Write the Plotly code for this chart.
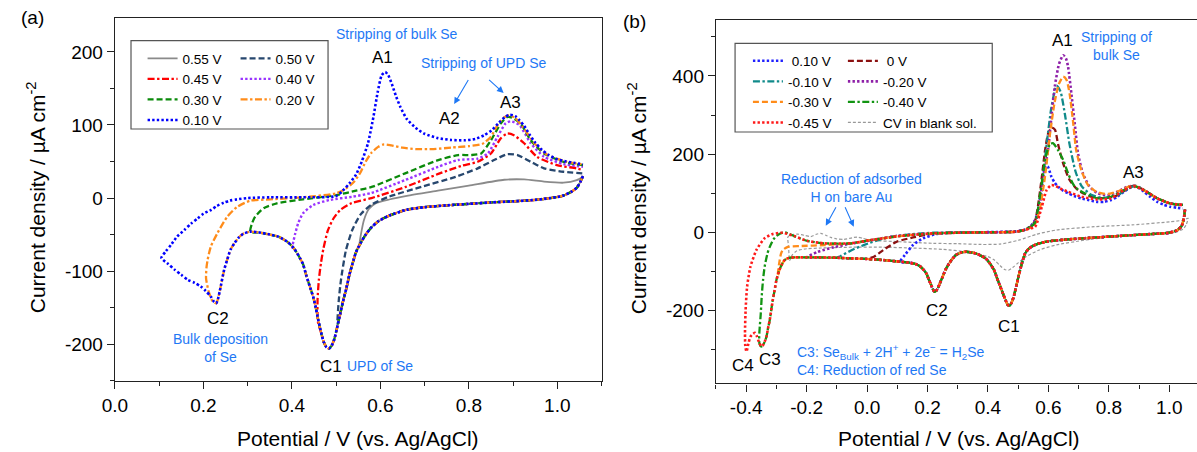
import plotly.graph_objects as go

# ---------------- data: panel (a) ----------------
A_cath_V = [1.058, 1.052, 1.044, 1.03, 1.012, 0.985, 0.95, 0.90, 0.85, 0.80, 0.75, 0.70, 0.66, 0.62, 0.595,
            0.58, 0.567, 0.555, 0.545, 0.537, 0.53, 0.523, 0.515, 0.508, 0.502, 0.496, 0.49, 0.484, 0.478,
            0.472, 0.466, 0.46, 0.454, 0.448, 0.44, 0.433, 0.425, 0.418, 0.405, 0.39, 0.37, 0.35, 0.33, 0.306,
            0.29, 0.28, 0.27, 0.261, 0.254, 0.247, 0.2375, 0.233, 0.229, 0.224, 0.217, 0.205, 0.194, 0.18,
            0.165, 0.15, 0.135, 0.12, 0.105]
A_cath_J = [30, 22, 14, 8, 3, 0, -2.5, -4.5, -6, -8, -10, -12.5, -16, -24, -32,
            -40, -50, -62, -74, -90, -105, -124, -143, -162, -178, -193, -202, -206, -204,
            -197, -184, -168, -150, -135, -120, -107, -90, -82, -69, -60, -53, -50, -47.5, -46,
            -49, -54, -62, -71, -84, -98, -126, -138, -144, -142, -135, -127, -121, -116,
            -112, -105, -98, -90, -82]

A_labels = ["0.55 V", "0.50 V", "0.45 V", "0.40 V", "0.30 V", "0.20 V", "0.10 V"]
A_cut = [0.555, 0.508, 0.466, 0.405, 0.306, 0.229, 0.105]

A055_V = [0.552, 0.556, 0.563, 0.574, 0.59, 0.62, 0.66, 0.73, 0.80, 0.88, 0.925, 0.97, 1.014, 1.044, 1.058]
A055_J = [-66, -50, -30, -15, -7, -2, 3, 10, 17, 25, 25.5, 22.5, 21, 24.5, 29]

A050_V = [0.503, 0.506, 0.511, 0.522, 0.537, 0.556, 0.58, 0.62, 0.694, 0.77, 0.82, 0.857, 0.887, 0.91, 0.94,
          0.97, 1.014, 1.058]
A050_J = [-172, -140, -112, -72, -43, -22, -9, 2, 15.5, 29, 40.6, 52, 60, 58.8, 49.6, 40.6, 36, 33.8]

A045_V = [0.459, 0.458, 0.461, 0.466, 0.471, 0.481, 0.494, 0.51, 0.535, 0.58, 0.656, 0.731, 0.783, 0.82, 0.85,
          0.872, 0.887, 0.902, 0.925, 0.954, 0.999, 1.044, 1.058]
A045_J = [-170, -140, -112, -88, -70, -45, -28, -16, -7, 0, 15, 33, 44, 49.6, 61,
          81.6, 88.4, 86, 75, 56.5, 45, 40.6, 38]

A040_V = [0.401, 0.404, 0.407, 0.414, 0.425, 0.448, 0.485, 0.537, 0.58, 0.656, 0.731, 0.776, 0.82, 0.843,
          0.865, 0.883, 0.894, 0.914, 0.94, 0.97, 1.014, 1.058]
A040_J = [-68, -58, -50, -35, -21, -9.6, -2.7, 1.8, 7, 24.6, 42.8, 52, 54, 61,
          84, 102, 105, 100, 75, 56.5, 46.5, 42.8]

A030_V = [0.31, 0.317, 0.336, 0.366, 0.425, 0.5, 0.545, 0.582, 0.656, 0.731, 0.776, 0.805, 0.828, 0.85,
          0.872, 0.887, 0.898, 0.917, 0.94, 0.97, 1.014, 1.058]
A030_J = [-34.6, -25.5, -14, -7.3, -1.8, 4, 10, 15.5, 33.8, 52, 58.8, 58.8, 61, 79,
          102, 111, 110, 102, 79, 61, 49.6, 45]

A020_V = [0.2205, 0.212, 0.206, 0.207, 0.2094, 0.2167, 0.2317, 0.254, 0.2764, 0.306, 0.351, 0.425, 0.5,
          0.52, 0.54, 0.555, 0.567, 0.58, 0.595, 0.608, 0.625, 0.65, 0.68, 0.72, 0.76, 0.80, 0.83, 0.85,
          0.865, 0.879, 0.89, 0.904, 0.922, 0.948, 0.978, 1.022, 1.058]
A020_J = [-141, -128, -110, -95, -85, -66.6, -48, -25.5, -12, -3.6, -1.8, 1, 6.4,
          12, 22, 35, 50, 62, 70, 73.5, 72, 69, 67, 67, 69, 71, 74, 84,
          100, 110, 113, 110, 97.5, 75, 59, 49.6, 46]

A010_V = [0.115, 0.127, 0.14, 0.157, 0.172, 0.187, 0.2, 0.217, 0.23, 0.246, 0.26, 0.276, 0.3, 0.351, 0.425,
          0.5, 0.515, 0.53, 0.545, 0.558, 0.572, 0.584, 0.594, 0.603, 0.611, 0.618, 0.626, 0.635, 0.645, 0.66,
          0.68, 0.70, 0.73, 0.76, 0.79, 0.815, 0.835, 0.852, 0.868, 0.882, 0.893, 0.905, 0.915, 0.925, 0.937,
          0.95, 0.965, 0.98, 1.0, 1.02, 1.04, 1.058]
A010_J = [-73, -64, -53, -43.7, -35, -27.8, -21.5, -16.4, -11, -6.4, -3.5, -1.8, 0, 1, 1,
          2.7, 10, 20, 32, 50, 75, 110, 145, 168, 172.5, 168, 156, 140, 125, 108,
          96, 88, 82, 79.5, 79, 81, 86, 93, 103, 111, 114, 112, 106, 99, 87,
          76, 66, 59, 53, 50, 48, 46]

A_anod = [(A055_V, A055_J), (A050_V, A050_J), (A045_V, A045_J), (A040_V, A040_J),
          (A030_V, A030_J), (A020_V, A020_J), (A010_V, A010_J)]

# ---------------- data: panel (b) ----------------
B_cath_V = [1.052, 1.048, 1.04, 1.025, 1.0, 0.95, 0.88, 0.80, 0.72, 0.65, 0.60, 0.57, 0.55, 0.535, 0.523,
            0.512, 0.501, 0.493, 0.485, 0.478, 0.472, 0.466, 0.458, 0.45, 0.441, 0.43, 0.42, 0.405, 0.392,
            0.375, 0.36, 0.343, 0.327, 0.31, 0.294, 0.283, 0.272, 0.26, 0.25, 0.241, 0.234, 0.228, 0.223,
            0.218, 0.212, 0.204, 0.196, 0.185, 0.174, 0.16, 0.141, 0.11, 0.054, 0.0, -0.055, -0.1, -0.164,
            -0.2, -0.241, -0.262, -0.273, -0.282, -0.29, -0.3, -0.306, -0.312, -0.317, -0.322, -0.328,
            -0.333, -0.339, -0.344]
B_cath_J = [58, 35, 15, 5, -1, -4, -7, -11, -15, -19, -23, -28, -34, -42, -54,
            -80, -113, -140, -165, -180, -187, -186, -173, -157, -139, -117, -96, -78, -66.5,
            -59, -54, -51, -49.6, -52, -58, -67, -79, -95, -113.5, -130, -143, -150, -152,
            -146, -135, -120, -105, -94, -86, -81, -77.7, -75, -71, -68, -66.5, -65, -64,
            -64, -64, -66, -71, -82, -96, -122, -148, -173, -198, -224, -246,
            -267, -280, -288]

B_labels = ["\u00a00.10 V", "\u00a00 V", "-0.10 V", "-0.20 V", "-0.30 V", "-0.40 V", "-0.45 V"]
B_cut = [0.11, 0.0, -0.1, -0.2, -0.29, -0.344, -0.344]

B010_V = [0.125, 0.152, 0.185, 0.228, 0.305, 0.4, 0.49, 0.52, 0.54, 0.556, 0.566, 0.575, 0.583, 0.59, 0.598,
          0.61, 0.62, 0.632, 0.648, 0.665, 0.685, 0.709, 0.735, 0.763, 0.785, 0.807, 0.83, 0.85, 0.868,
          0.883, 0.9, 0.916, 0.935, 0.96, 0.98, 1.003, 1.025, 1.045]
B010_J = [-58, -32.5, -15.5, -4.4, 0, 0.5, 2.6, 6, 14, 31.5, 60, 100, 145, 170, 168,
          142, 128, 117, 107, 100, 93, 87, 82, 78, 78, 82.6, 92, 104, 113,
          117, 113, 104, 92, 78, 71, 65.5, 63, 61]

B000_V = [0.021, 0.054, 0.098, 0.152, 0.207, 0.272, 0.38, 0.49, 0.52, 0.54, 0.556, 0.566, 0.578, 0.589, 0.6,
          0.612, 0.622, 0.632, 0.649, 0.67, 0.698, 0.741, 0.785, 0.829, 0.872, 0.89, 0.916, 0.96, 1.003, 1.045]
B000_J = [-63, -45, -24, -13, -4.4, -1, 0, 1.5, 6, 14, 30, 70, 140, 210, 255,
          268, 262, 225, 176, 134, 108, 91, 87, 95, 117, 119, 108, 87, 74, 70]

Bm010_V = [-0.088, -0.05, -0.011, 0.054, 0.119, 0.218, 0.38, 0.49, 0.52, 0.54, 0.556, 0.575, 0.595, 0.61,
           0.627, 0.64, 0.655, 0.67, 0.69, 0.71, 0.74, 0.78, 0.83, 0.87, 0.89, 0.916, 0.96, 1.003, 1.045]
Bm010_J = [-61, -45, -32.5, -15.5, -7, -1, 0, 1.5, 6, 14, 25, 100, 230, 320,
           375, 360, 300, 225, 155, 118, 97, 88, 96, 115, 119, 108, 87, 74, 70]

Bm020_V = [-0.164, -0.11, -0.055, 0.0, 0.05, 0.1, 0.2, 0.3, 0.4, 0.49, 0.52, 0.54, 0.556, 0.567, 0.583, 0.6,
           0.61, 0.621, 0.635, 0.649, 0.658, 0.665, 0.676, 0.687, 0.698, 0.714, 0.736, 0.763, 0.796, 0.829,
           0.862, 0.883, 0.916, 0.96, 1.003, 1.045]
Bm020_J = [-50, -38, -29, -22, -15, -9, -3, -1, 0, 1.5, 6, 14, 30, 49, 134, 219,
           296, 372, 430, 453, 445, 424, 355, 279, 202, 151, 117, 100, 95, 104,
           117, 119, 108, 87, 74, 70]

Bm030_V = [-0.296, -0.292, -0.285, -0.279, -0.262, -0.219, -0.142, -0.055, 0.01, 0.109, 0.218, 0.38, 0.49,
           0.52, 0.54, 0.556, 0.572, 0.59, 0.605, 0.62, 0.635, 0.649, 0.66, 0.67, 0.681, 0.692, 0.709, 0.731,
           0.758, 0.796, 0.83, 0.862, 0.883, 0.916, 0.96, 1.003, 1.045]
Bm030_J = [-112, -85, -55, -45, -37, -35, -32.5, -28, -20, -9.5, -2.6, 0, 1.5,
           5, 12, 22, 60, 150, 250, 330, 380, 398, 390, 355, 287, 210, 159, 121,
           104, 98, 105, 116, 119, 108, 87, 74, 70]

Bm040_V = [-0.35, -0.356, -0.357, -0.355, -0.352, -0.348, -0.344, -0.339, -0.33, -0.322, -0.31, -0.3, -0.287,
           -0.273, -0.258, -0.241, -0.22, -0.197, -0.142, -0.055, 0.01, 0.109, 0.218, 0.38, 0.49, 0.52, 0.54,
           0.556, 0.575, 0.59, 0.605, 0.615, 0.632, 0.649, 0.665, 0.687, 0.72, 0.763, 0.807, 0.85, 0.883,
           0.916, 0.96, 1.003, 1.045]
Bm040_J = [-292, -285, -265, -240, -210, -156, -120, -88, -55, -37, -18, -9.5, -3,
           0, -4, -9.5, -16, -22, -28, -28, -20, -9.5, -2.6, 0, 1.5, 6, 14,
           25, 110, 190, 225, 228, 210, 185, 151, 117, 100, 87, 91, 108, 118,
           108, 87, 74, 70]

Bm045_V = [-0.35, -0.358, -0.365, -0.371, -0.378, -0.386, -0.393, -0.399, -0.403, -0.404, -0.402, -0.397,
           -0.386, -0.366, -0.339, -0.312, -0.279, -0.241, -0.197, -0.142, -0.055, 0.01, 0.109, 0.218, 0.381,
           0.49, 0.52, 0.54, 0.556, 0.578, 0.594, 0.61, 0.625, 0.638, 0.665, 0.709, 0.763, 0.807, 0.85, 0.883,
           0.916, 0.96, 1.003, 1.045]
Bm045_J = [-292, -280, -265, -257, -260, -267, -285, -305, -290, -258, -199, -139,
           -88, -45, -15, -4.4, -1, -9.5, -22, -28, -28, -20, -9.5, -2.6, 0,
           1.5, 6, 10, 14, 65, 108, 121, 118, 112.5, 104, 91, 84, 87, 108, 118,
           108, 87, 74, 70]

B_anod = [(B010_V, B010_J), (B000_V, B000_J), (Bm010_V, Bm010_J), (Bm020_V, Bm020_J),
          (Bm030_V, Bm030_J), (Bm040_V, Bm040_J), (Bm045_V, Bm045_J)]

Blank_V = [1.062, 1.055, 1.045, 1.02, 1.0, 0.9, 0.815, 0.72, 0.627, 0.57, 0.527, 0.5, 0.482, 0.468, 0.455,
           0.44, 0.42, 0.4, 0.377, 0.33, 0.25, 0.15, 0.05, -0.05, -0.15, -0.2, -0.232, -0.248, -0.256,
           -0.258, -0.26, -0.262, -0.25, -0.23, -0.205, -0.186, -0.168, -0.153, -0.135, -0.12, -0.1, -0.077,
           -0.05, -0.033, -0.015, 0.01, 0.109, 0.218, 0.3, 0.377, 0.44, 0.502, 0.56, 0.627, 0.752, 0.877,
           1.002, 1.045, 1.062]
Blank_J = [36, 18, 8, 0, -3, -7, -11, -20, -32, -45, -62, -78, -90, -97, -95,
           -85, -70, -62, -58, -50, -43.5, -40, -38, -38, -40, -42, -47, -58, -72,
           -60, -35, -12, -6, -4.4, -8, -11, -5, -2.6, -8, -13, -17, -18,
           -14, -12, -15, -20, -24, -28, -29, -31, -30, -20, -5, 6, 14.5, 19,
           27, 31, 36]

A_xticks = [0.0, 0.2, 0.4, 0.6, 0.8, 1.0]
A_yticks = [-200, -100, 0, 100, 200]
B_xticks = [-0.4, -0.2, 0.0, 0.2, 0.4, 0.6, 0.8, 1.0]
B_yticks = [-200, 0, 200, 400]

for a, b in [(A_cath_V, A_cath_J), (B_cath_V, B_cath_J), (Blank_V, Blank_J)] + A_anod + B_anod:
    assert len(a) == len(b), (len(a), len(b))

# ---------------- styling ----------------
W, H = 1197, 452
FONT = "Liberation Sans, Arial, sans-serif"
BLUE_TXT = "rgb(30,120,245)"


def px(x):
    return x / W


def py(y):
    return 1 - y / H


DOT = "2.4px,2.2px"
DASH = "6px,3px"
DASHDOT = "7px,2.5px,2.4px,2.5px"

A_style = [("#8a8a8a", "solid", 1.8, "legend"), ("#27476e", DASH, 2.3, "legend2"),
           ("#ff0000", DASHDOT, 2.3, "legend"), ("#9933ff", DOT, 2.4, "legend2"),
           ("#0a8a0a", DASH, 2.3, "legend"), ("#ff8c1a", DASHDOT, 2.3, "legend2"),
           ("#0000ff", DOT, 2.6, "legend")]
B_style = [("#2020ff", DOT, 2.6, "legend3"), ("#8b1010", DASH, 2.3, "legend4"),
           ("#108a8a", DASHDOT, 2.3, "legend3"), ("#8e1fa8", DOT, 2.6, "legend4"),
           ("#ff8c1a", DASH, 2.3, "legend3"), ("#129412", DASHDOT, 2.3, "legend4"),
           ("#ff1a1a", DOT, 2.6, "legend3")]


def compose(cV, cJ, cut, aV, aJ):
    V = [v for v in cV if v >= cut]
    J = [j for v, j in zip(cV, cJ) if v >= cut]
    return V + list(aV), J + list(aJ)


fig = go.Figure()

for lab, cut, (aV, aJ), (col, dash, w, leg) in zip(A_labels, A_cut, A_anod, A_style):
    V, J = compose(A_cath_V, A_cath_J, cut, aV, aJ)
    fig.add_trace(go.Scatter(x=V, y=J, mode="lines", name=lab, legend=leg,
                             line=dict(color=col, dash=dash, width=w, shape="spline", smoothing=0.6),
                             xaxis="x", yaxis="y"))

fig.add_trace(go.Scatter(x=Blank_V, y=Blank_J, mode="lines", name="CV in blank sol.", legend="legend4",
                         legendrank=2000,
                         line=dict(color="#999999", dash="3px,2px", width=1.2, shape="spline", smoothing=0.6),
                         xaxis="x2", yaxis="y2"))
for lab, cut, (aV, aJ), (col, dash, w, leg) in zip(B_labels, B_cut, B_anod, B_style):
    V, J = compose(B_cath_V, B_cath_J, cut, aV, aJ)
    fig.add_trace(go.Scatter(x=V, y=J, mode="lines", name=lab, legend=leg,
                             line=dict(color=col, dash=dash, width=w, shape="spline", smoothing=0.6),
                             xaxis="x2", yaxis="y2"))

axis_common = dict(showline=True, linecolor="#222", linewidth=1.4, ticks="outside", ticklen=7, tickwidth=1.3,
                   tickcolor="#222", showgrid=False, zeroline=False,
                   tickfont=dict(family=FONT, size=19, color="black"))


def fmt(v, nd):
    return f"{v:.{nd}f}"


fig.update_layout(
    width=W, height=H, margin=dict(l=0, r=0, t=0, b=0),
    paper_bgcolor="white", plot_bgcolor="white", showlegend=True,
    font=dict(family=FONT, color="black"),
    xaxis=dict(domain=[px(103.05), px(595)], range=[0, 1.1], anchor="y", mirror=True,
               tickvals=A_xticks, ticktext=[fmt(v, 1) for v in A_xticks],
               minor=dict(dtick=0.1, tick0=0, ticklen=4, tickwidth=1.2, tickcolor="#222", ticks="outside"),
               **axis_common),
    yaxis=dict(domain=[py(380.7), py(18.3)], range=[-250, 246], anchor="x", mirror=True,
               tickvals=A_yticks, ticktext=[str(v) for v in A_yticks],
               minor=dict(dtick=50, tick0=0, ticklen=4, tickwidth=1.2, tickcolor="#222", ticks="outside"),
               **axis_common),
    xaxis2=dict(domain=[px(710.7), 1.0], range=[-0.5, 1.0917], anchor="y2", mirror=True,
                tickvals=B_xticks, ticktext=[fmt(v, 1) for v in B_xticks],
                minor=dict(dtick=0.1, tick0=0, ticklen=4, tickwidth=1.2, tickcolor="#222", ticks="outside"),
                **axis_common),
    yaxis2=dict(domain=[py(383.3), py(20)], range=[-386, 543], anchor="x2", mirror=False,
                tickvals=B_yticks, ticktext=[str(v) for v in B_yticks],
                minor=dict(dtick=100, tick0=0, ticklen=4, tickwidth=1.2, tickcolor="#222", ticks="outside"),
                **axis_common),
)

leg_common = dict(bgcolor="rgba(0,0,0,0)", borderwidth=0, font=dict(family=FONT, size=13.5, color="black"),
                  xanchor="left", yanchor="top", tracegroupgap=0, orientation="v")
fig.update_layout(
    legend=dict(x=px(131), y=py(43.0), **leg_common),
    legend2=dict(x=px(225), y=py(43.0), **leg_common),
    legend3=dict(x=px(743), y=py(45.5), **leg_common),
    legend4=dict(x=px(839), y=py(45.5), **leg_common),
)

fig.add_shape(type="rect", xref="paper", yref="paper", x0=px(119.3), x1=px(318.5), y0=py(129), y1=py(40.7),
              line=dict(color="#555", width=1.2), fillcolor="rgba(0,0,0,0)", layer="above")
fig.add_shape(type="rect", xref="paper", yref="paper", x0=px(730), x1=px(990), y0=py(132), y1=py(43.3),
              line=dict(color="#555", width=1.2), fillcolor="rgba(0,0,0,0)", layer="above")


def note(text, x, y, size=17, color="black", xanchor="center", align="center", angle=0):
    fig.add_annotation(text=text, x=px(x), y=py(y), xref="paper", yref="paper", showarrow=False,
                       xanchor=xanchor, yanchor="middle", align=align, textangle=angle,
                       font=dict(family=FONT, size=size, color=color))


def arrow(x0, y0, x1, y1):
    fig.add_annotation(x=px(x1), y=py(y1), xref="paper", yref="paper", ax=x0 - x1, ay=y0 - y1,
                       axref="pixel", ayref="pixel", text="", showarrow=True, arrowhead=2, arrowsize=1.2,
                       arrowwidth=1.1, arrowcolor=BLUE_TXT)


# panel labels & axis titles
note("(a)", 20, 18, size=19)
note("(b)", 628, 21, size=19)
note("Potential / V (vs. Ag/AgCl)", 348.7, 438, size=21)
note("Potential / V (vs. Ag/AgCl)", 956, 438, size=21)
note("Current density / µA cm<sup>-2</sup>", 23, 197.5, size=21, angle=-90)
note("Current density / µA cm<sup>-2</sup>", 631, 198, size=21, angle=-90)

# panel (a) annotations
note("Stripping of bulk Se", 388, 34, size=14, color=BLUE_TXT)
note("A1", 374, 57)
note("Stripping of UPD Se", 476, 63, size=14, color=BLUE_TXT)
arrow(461, 78.5, 446, 104)
arrow(480, 78.5, 496, 93)
note("A2", 441.5, 118.5)
note("A3", 503, 102.5)
note("C2", 207.5, 318)
note("Bulk deposition<br>of Se", 210, 348, size=14, color=BLUE_TXT)
note("C1", 321, 366)
note("UPD of Se", 371.5, 366, size=14, color=BLUE_TXT)

# panel (b) annotations
note("A1", 1061, 41)
note("Stripping of<br>bulk Se", 1116, 46, size=14, color=BLUE_TXT)
note("A3", 1133, 172.5)
note("Reduction of adsorbed<br>H on bare Au", 847.5, 188, size=14, color=BLUE_TXT)
arrow(832.7, 205.7, 821.7, 225.7)
arrow(840.7, 205.7, 850, 226.7)
note("C2", 934, 310)
note("C1", 1006.5, 326.5)
note("C4", 738, 365)
note("C3", 765, 359)
note("C3: Se<sub>Bulk</sub> + 2H<sup>+</sup> + 2e<sup>\u2212</sup> = H<sub>2</sub>Se", 791, 352, size=14,
     color=BLUE_TXT, xanchor="left", align="left")
note("C4: Reduction of red Se", 791, 369.5, size=14, color=BLUE_TXT, xanchor="left", align="left")

fig.write_html("out.html")
